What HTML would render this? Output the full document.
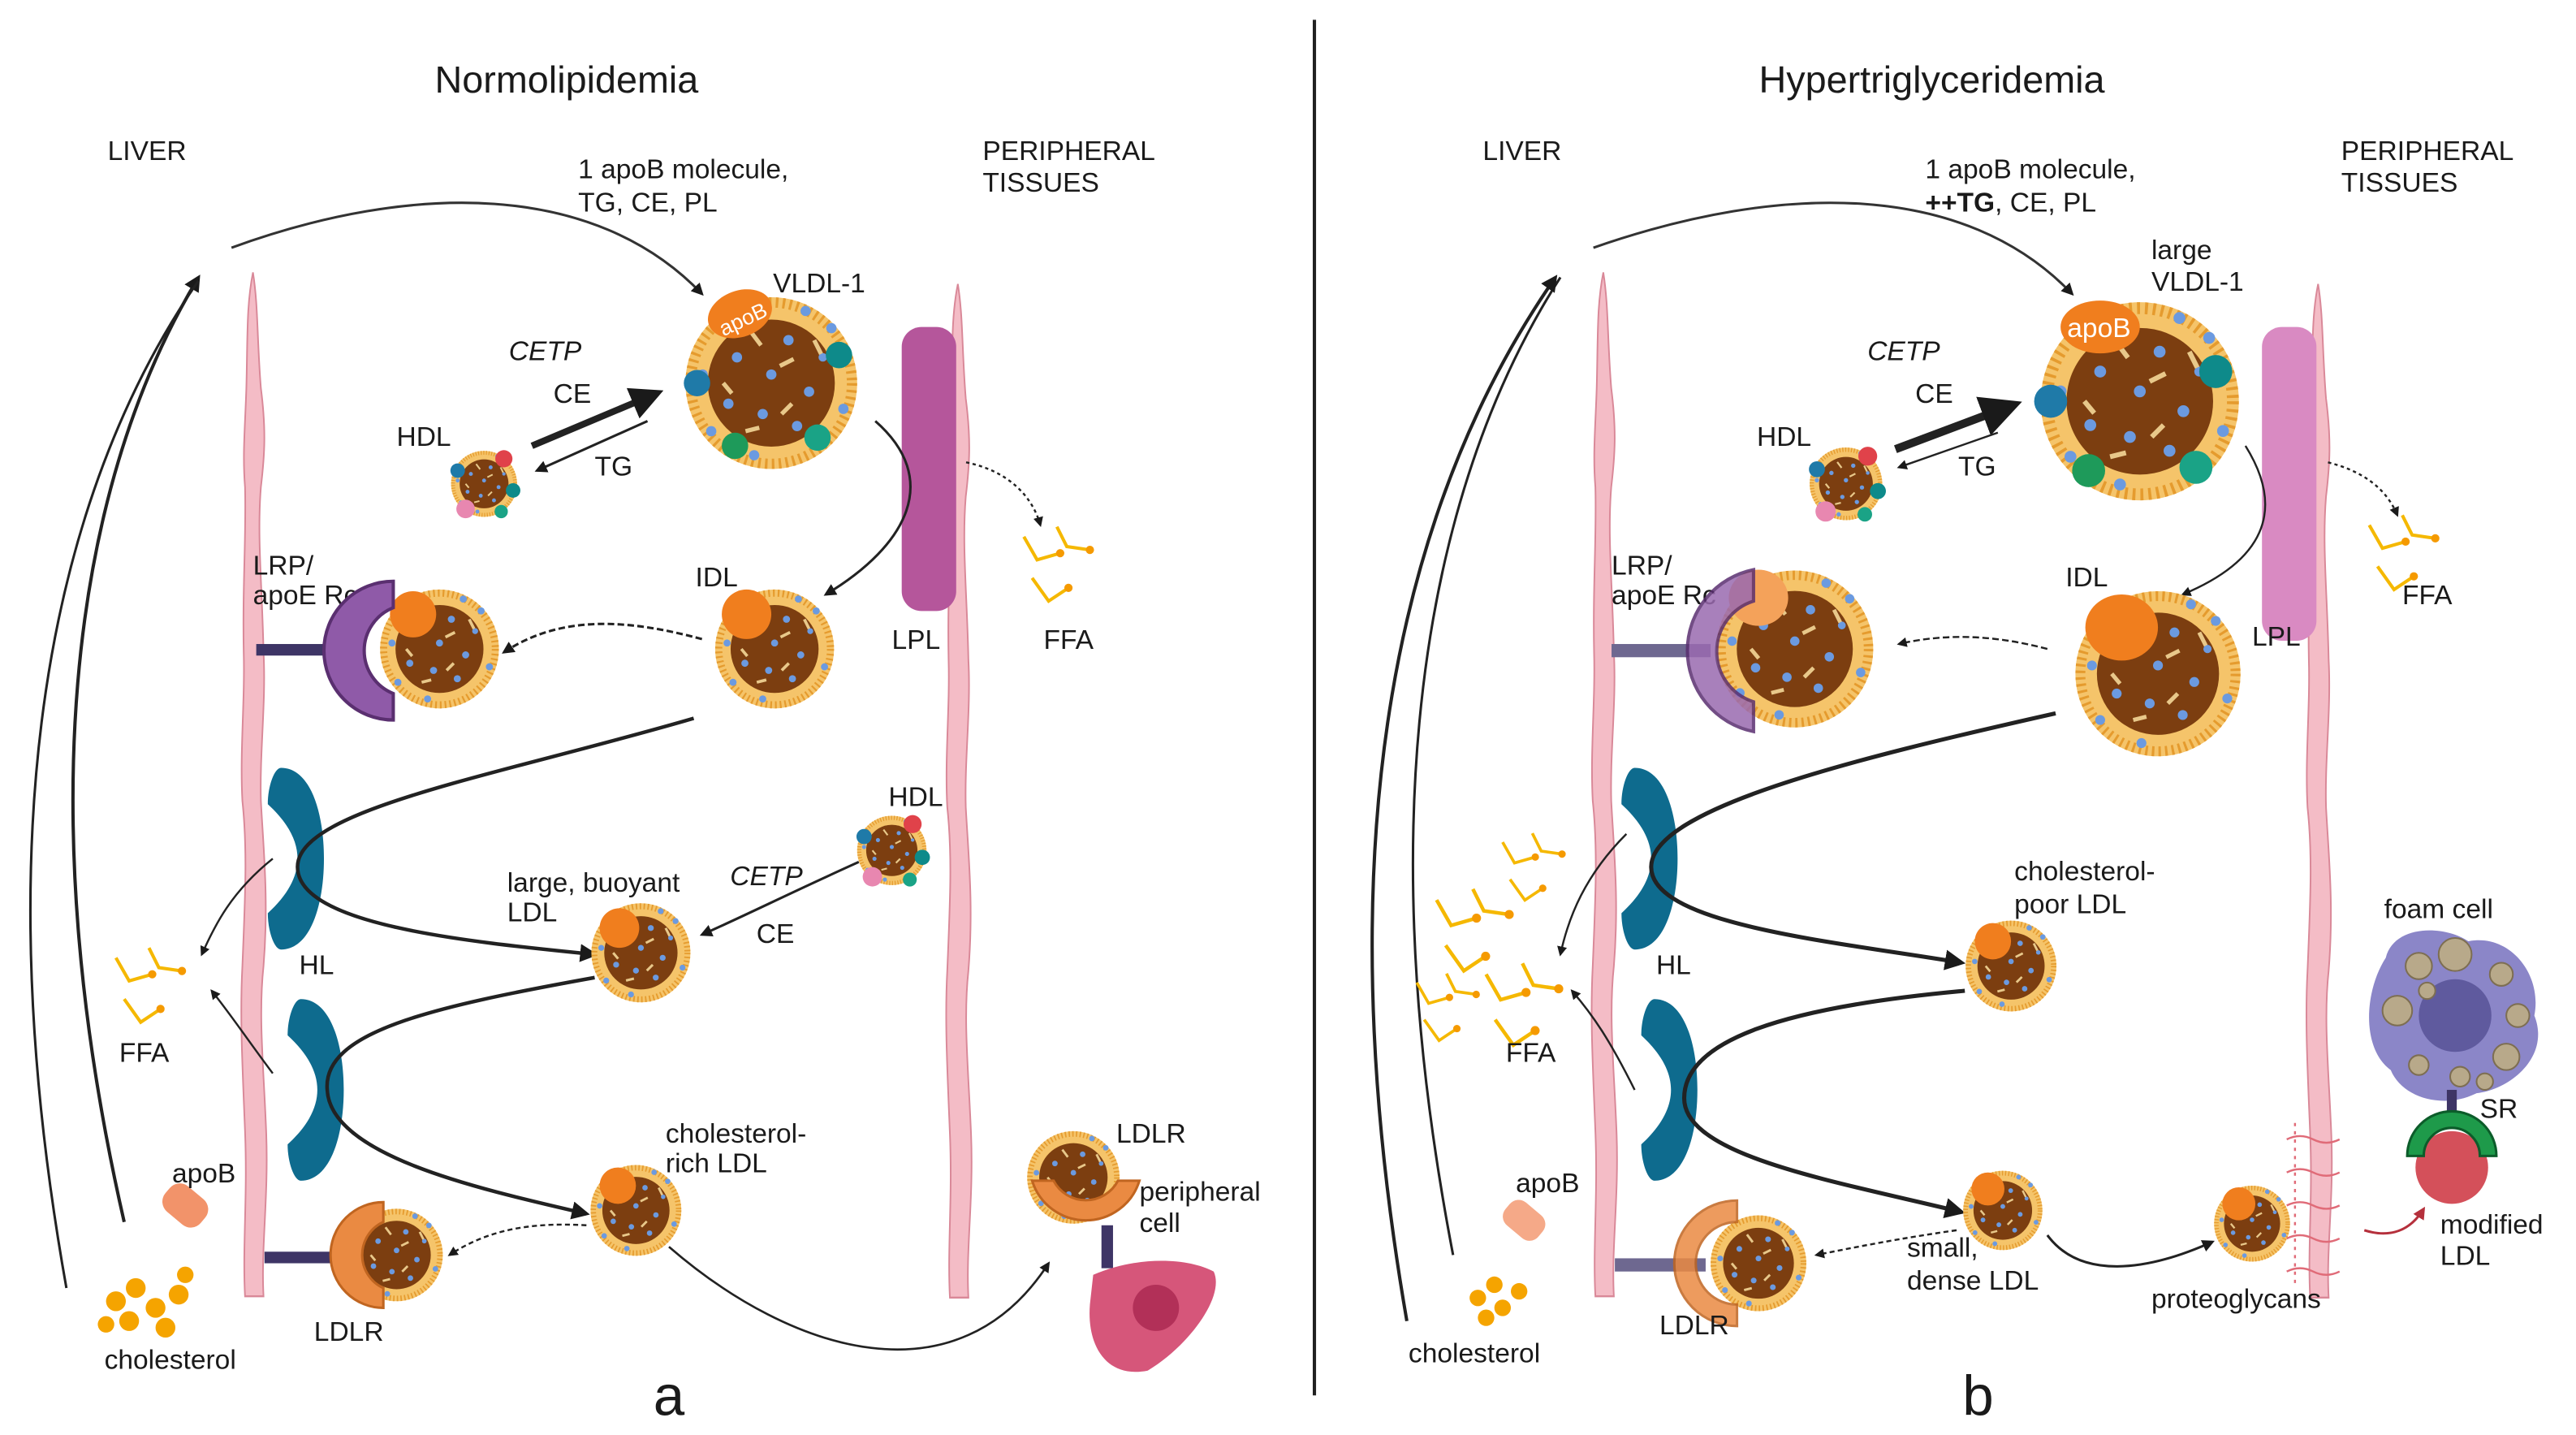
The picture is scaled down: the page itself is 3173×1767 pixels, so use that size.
<!DOCTYPE html>
<html><head><meta charset="utf-8"><style>
html,body{margin:0;padding:0;background:#fff}
svg{display:block}
text{font-family:"Liberation Sans",sans-serif;fill:#1a1a1a}
</style></head><body>
<svg width="3173" height="1767" viewBox="0 0 1560 869" xmlns="http://www.w3.org/2000/svg">
<defs>
<marker id="ah" viewBox="0 0 10 10" refX="8" refY="5" markerWidth="5" markerHeight="5" orient="auto"><path d="M0,0L10,5L0,10z" fill="#1a1a1a"/></marker>
<marker id="ahr" viewBox="0 0 10 10" refX="8" refY="5" markerWidth="5" markerHeight="5" orient="auto"><path d="M0,0L10,5L0,10z" fill="#b5303c"/></marker>
<g id="p">
<circle r="50" fill="#f5c46a"/>
<circle r="47" fill="none" stroke="#e59b2e" stroke-width="6" stroke-dasharray="1.5 2.5"/>
<circle r="37" fill="#7c3e10"/>
<g fill="#6b9ae0"><circle cx="-20" cy="-15" r="3"/><circle cx="10" cy="-25" r="3"/><circle cx="22" cy="5" r="3"/><circle cx="-5" cy="18" r="3"/><circle cx="-25" cy="12" r="3"/><circle cx="15" cy="25" r="3"/><circle cx="0" cy="-5" r="3"/><circle cx="30" cy="-15" r="2.5"/><circle cx="-40" cy="-5" r="3"/><circle cx="42" cy="15" r="3"/><circle cx="-10" cy="42" r="3"/><circle cx="20" cy="-42" r="3"/><circle cx="-35" cy="28" r="3"/><circle cx="35" cy="-32" r="3"/></g>
<g stroke="#e8c88a" stroke-width="2.5"><path d="M-12,-30l6,8M5,-10l8,-4M-28,0l5,6M12,12l-6,6M-15,28l8,-2M25,-25l4,8"/></g>
</g>
<g id="hdl">
<use href="#p"/>
<circle cx="30" cy="-38" r="13" fill="#e0424a"/>
<circle cx="-40" cy="-20" r="11" fill="#1f7aa8"/>
<circle cx="44" cy="10" r="11" fill="#0e8a8a"/>
<circle cx="-28" cy="38" r="14" fill="#e887b0"/>
<circle cx="26" cy="42" r="10" fill="#1aa386"/>
</g>
<g id="ffa" stroke="#f5b800" stroke-width="2" fill="none"><path d="M0,0l8,14l14,-4M20,-6l6,12l14,2M5,25l10,14l12,-8"/><g fill="#f59a00" stroke="none"><circle cx="22" cy="10" r="2.5"/><circle cx="40" cy="8" r="2.5"/><circle cx="27" cy="31" r="2.5"/></g></g>
<path id="endo" d="M0,0 C4,20 3,40 6,70 C10,95 9,110 6,130 C3,160 7,190 8,230 C10,260 5,290 6,320 C8,350 12,380 8,420 C4,450 8,480 10,520 C12,560 6,590 8,620 L-6,620 C-8,590 -4,560 -6,520 C-8,480 -10,450 -8,420 C-6,380 -4,350 -8,320 C-10,290 -6,260 -7,230 C-8,190 -5,160 -6,130 C-8,110 -6,95 -5,70 C-4,40 -5,20 0,0z" fill="#f4bcc6" stroke="#d98898" stroke-width="1.2"/>
<path id="hl" d="M0,0 C18,0 26,25 26,50 C26,75 18,100 0,100 C-4,100 -8,90 -8,80 C4,70 10,60 10,50 C10,40 4,30 -8,20 C-8,10 -4,0 0,0z" fill="#0e6b8e"/>
</defs>
<g font-size="16.5">
<line x1="796" y1="12" x2="796" y2="845" stroke="#222" stroke-width="2"/>

<!-- ===== PANEL A ===== -->
<text x="343" y="56" font-size="23" text-anchor="middle">Normolipidemia</text>
<text x="65" y="97">LIVER</text>
<text x="595" y="97">PERIPHERAL</text>
<text x="595" y="116">TISSUES</text>
<text x="350" y="108">1 apoB molecule,</text>
<text x="350" y="128">TG, CE, PL</text>

<use href="#endo" transform="translate(153,165) scale(0.8,1)"/>
<use href="#endo" transform="translate(580,172) scale(0.8,0.99)"/>

<path d="M140,150 C250,110 360,110 425,178" fill="none" stroke="#333" stroke-width="1.5" marker-end="url(#ah)"/>
<path d="M75,740 C20,500 40,300 120,168" fill="none" stroke="#222" stroke-width="2" marker-end="url(#ah)"/>
<path d="M40,780 C-10,500 30,300 120,170" fill="none" stroke="#222" stroke-width="1.5"/>

<rect x="546" y="198" width="33" height="172" rx="12" fill="#b5569b"/>
<use href="#p" transform="translate(467,232) scale(1.04)"/>
<ellipse cx="448" cy="190" rx="20" ry="14" fill="#f07e1e" transform="rotate(-20 448 190)"/>
<text x="435" y="200" font-size="13" transform="rotate(-25 445 195)" style="fill:#fff">apoB</text>
<circle cx="508" cy="215" r="8" fill="#0e8a8a"/><circle cx="422" cy="232" r="8" fill="#1f7aa8"/>
<circle cx="445" cy="270" r="8" fill="#1e9a5a"/><circle cx="495" cy="265" r="8" fill="#1aa386"/>
<text x="468" y="177">VLDL-1</text>
<text x="308" y="218" font-style="italic">CETP</text>
<text x="335" y="244">CE</text>
<text x="360" y="288">TG</text>
<text x="240" y="270">HDL</text>
<use href="#hdl" transform="translate(293,293) scale(0.4)"/>
<line x1="322" y1="270" x2="398" y2="238" stroke="#222" stroke-width="4" marker-end="url(#ah)"/>
<line x1="392" y1="255" x2="325" y2="285" stroke="#222" stroke-width="1.5" marker-end="url(#ah)"/>
<path d="M530,255 C570,290 550,330 500,360" fill="none" stroke="#222" stroke-width="1.5" marker-end="url(#ah)"/>
<path d="M585,280 C610,285 625,300 630,318" fill="none" stroke="#222" stroke-width="1.2" stroke-dasharray="2 2" marker-end="url(#ah)"/>
<use href="#ffa" transform="translate(620,325)"/>
<text x="632" y="393">FFA</text>
<text x="540" y="393">LPL</text>
<use href="#p" transform="translate(469,393) scale(0.72)"/>
<ellipse cx="452" cy="372" rx="15" ry="15" fill="#f07e1e"/>
<text x="421" y="355">IDL</text>
<text x="153" y="348">LRP/</text>
<text x="153" y="366">apoE Rc</text>
<rect x="155" y="390" width="55" height="7" fill="#3e3566"/>
<use href="#p" transform="translate(266,393) scale(0.72)"/>
<ellipse cx="250" cy="372" rx="14" ry="14" fill="#f07e1e"/>
<path d="M238,352 A42,42 0 0 0 238,436 L238,420 A28,28 0 0 1 238,368z" fill="#8f5aa8" stroke="#5a2f70" stroke-width="2"/>
<path d="M425,387 C380,375 340,372 305,395" fill="none" stroke="#222" stroke-width="1.5" stroke-dasharray="4 2" marker-end="url(#ah)"/>
<use href="#hl" transform="translate(170,465) scale(1,1.1)"/>
<use href="#hl" transform="translate(182,605) scale(1,1.1)"/>
<text x="181" y="590">HL</text>
<path d="M420,435 C300,470 180,490 180,525 C180,560 280,570 360,578" fill="none" stroke="#222" stroke-width="2.2" marker-end="url(#ah)"/>
<path d="M360,592 C260,610 195,625 198,660 C200,700 290,720 355,735" fill="none" stroke="#222" stroke-width="2.2" marker-end="url(#ah)"/>
<path d="M165,520 C140,540 130,560 122,578" fill="none" stroke="#222" stroke-width="1.2" marker-end="url(#ah)"/>
<path d="M165,650 C150,630 140,615 128,600" fill="none" stroke="#222" stroke-width="1.2" marker-end="url(#ah)"/>
<use href="#ffa" transform="translate(70,580)"/>
<text x="72" y="643">FFA</text>
<use href="#p" transform="translate(388,577) scale(0.6)"/>
<circle cx="375" cy="562" r="12" fill="#f07e1e"/>
<text x="307" y="540">large, buoyant</text>
<text x="307" y="558">LDL</text>
<text x="538" y="488">HDL</text>
<use href="#hdl" transform="translate(540,515) scale(0.42)"/>
<text x="442" y="536" font-style="italic">CETP</text>
<text x="458" y="571">CE</text>
<path d="M520,522 C480,540 450,555 425,566" fill="none" stroke="#222" stroke-width="1.5" marker-end="url(#ah)"/>
<use href="#p" transform="translate(385,733) scale(0.55)"/>
<circle cx="374" cy="718" r="11" fill="#f07e1e"/>
<text x="403" y="692">cholesterol-</text>
<text x="403" y="710">rich LDL</text>
<rect x="160" y="758" width="50" height="7" fill="#3e3566"/>
<use href="#p" transform="translate(240,760) scale(0.56)"/>
<path d="M232,728 A32,32 0 0 0 232,792 L232,780 A22,22 0 0 1 232,740z" fill="#ea8a42" stroke="#c06520" stroke-width="1.5"/>
<text x="190" y="812">LDLR</text>
<path d="M355,742 C320,740 295,745 272,760" fill="none" stroke="#222" stroke-width="1.2" stroke-dasharray="3 2" marker-end="url(#ah)"/>
<path d="M405,755 C480,820 580,850 635,765" fill="none" stroke="#222" stroke-width="1.3" marker-end="url(#ah)"/>
<use href="#p" transform="translate(650,713) scale(0.56)"/>
<path d="M625,715 A34,34 0 0 0 690,715 L677,715 A22,22 0 0 1 638,715z" fill="#ea8a42" stroke="#c06520" stroke-width="1.5"/>
<rect x="667" y="742" width="7" height="26" fill="#3e3566"/>
<path d="M662,772 C690,760 720,762 735,770 C742,785 720,815 695,830 C670,835 658,815 660,790z" fill="#d6567a"/>
<circle cx="700" cy="792" r="14" fill="#b23058"/>
<text x="676" y="692">LDLR</text>
<text x="690" y="727">peripheral</text>
<text x="690" y="746">cell</text>
<rect x="98" y="720" width="28" height="20" rx="8" fill="#f2936a" transform="rotate(40 112 730)"/>
<text x="104" y="716">apoB</text>
<g fill="#f5a400"><circle cx="70" cy="788" r="6"/><circle cx="82" cy="780" r="6"/><circle cx="94" cy="792" r="6"/><circle cx="108" cy="784" r="6"/><circle cx="78" cy="800" r="6"/><circle cx="100" cy="804" r="6"/><circle cx="112" cy="772" r="5"/><circle cx="64" cy="802" r="5"/></g>
<text x="63" y="829">cholesterol</text>
<text x="405" y="857" font-size="34" text-anchor="middle">a</text>

<!-- ===== PANEL B ===== -->
<text x="1170" y="56" font-size="23" text-anchor="middle">Hypertriglyceridemia</text>
<text x="898" y="97">LIVER</text>
<text x="1418" y="97">PERIPHERAL</text>
<text x="1418" y="116">TISSUES</text>
<text x="1166" y="108">1 apoB molecule,</text>
<text x="1166" y="128"><tspan font-weight="bold">++TG</tspan>, CE, PL</text>

<use href="#endo" transform="translate(971,165) scale(0.8,1)"/>
<use href="#endo" transform="translate(1404,172) scale(0.8,0.99)"/>
<path d="M965,150 C1080,110 1190,110 1255,178" fill="none" stroke="#333" stroke-width="1.5" marker-end="url(#ah)"/>
<path d="M880,760 C830,500 860,300 945,168" fill="none" stroke="#222" stroke-width="1.5"/>
<path d="M852,800 C800,500 850,300 942,168" fill="none" stroke="#222" stroke-width="2" marker-end="url(#ah)"/>

<rect x="1370" y="198" width="33" height="190" rx="12" fill="#d98ac2"/>
<use href="#p" transform="translate(1296,243) scale(1.2)"/>
<ellipse cx="1272" cy="198" rx="24" ry="16" fill="#f07e1e"/>
<text x="1252" y="204" style="fill:#fff">apoB</text>
<circle cx="1342" cy="225" r="10" fill="#0e8a8a"/><circle cx="1242" cy="243" r="10" fill="#1f7aa8"/>
<circle cx="1265" cy="285" r="10" fill="#1e9a5a"/><circle cx="1330" cy="283" r="10" fill="#1aa386"/>
<text x="1303" y="157">large</text>
<text x="1303" y="176">VLDL-1</text>
<text x="1131" y="218" font-style="italic">CETP</text>
<text x="1160" y="244">CE</text>
<text x="1186" y="288">TG</text>
<text x="1064" y="270">HDL</text>
<use href="#hdl" transform="translate(1118,293) scale(0.44)"/>
<line x1="1148" y1="272" x2="1220" y2="245" stroke="#222" stroke-width="5" marker-end="url(#ah)"/>
<line x1="1210" y1="262" x2="1150" y2="283" stroke="#222" stroke-width="1.2" marker-end="url(#ah)"/>
<path d="M1360,270 C1385,310 1370,340 1322,360" fill="none" stroke="#222" stroke-width="1.2" marker-end="url(#ah)"/>
<path d="M1410,280 C1430,285 1445,295 1452,312" fill="none" stroke="#222" stroke-width="1.2" stroke-dasharray="2 2" marker-end="url(#ah)"/>
<use href="#ffa" transform="translate(1435,318)"/>
<text x="1455" y="366">FFA</text>
<text x="1364" y="391">LPL</text>
<use href="#p" transform="translate(1307,408) scale(1)"/>
<ellipse cx="1285" cy="380" rx="22" ry="20" fill="#f07e1e"/>
<text x="1251" y="355">IDL</text>
<text x="976" y="348">LRP/</text>
<text x="976" y="366">apoE Rc</text>
<rect x="976" y="390" width="60" height="8" fill="#6e6890"/>
<use href="#p" transform="translate(1087,393) scale(0.95)"/>
<ellipse cx="1065" cy="362" rx="18" ry="17" fill="#f4a25a"/>
<path d="M1062,345 A50,50 0 0 0 1062,443 L1062,425 A32,32 0 0 1 1062,364z" fill="#9a6ab0" opacity="0.85" stroke="#5a2f70" stroke-width="2"/>
<path d="M1240,393 C1210,385 1180,383 1150,390" fill="none" stroke="#222" stroke-width="1.2" stroke-dasharray="4 2" marker-end="url(#ah)"/>
<use href="#hl" transform="translate(990,465) scale(1,1.1)"/>
<use href="#hl" transform="translate(1002,605) scale(1,1.1)"/>
<text x="1003" y="590">HL</text>
<path d="M1245,432 C1120,460 1000,490 1000,525 C1000,560 1110,570 1188,583" fill="none" stroke="#222" stroke-width="2.5" marker-end="url(#ah)"/>
<path d="M1190,600 C1080,610 1020,630 1020,665 C1020,700 1110,715 1188,734" fill="none" stroke="#222" stroke-width="2.5" marker-end="url(#ah)"/>
<path d="M985,505 C960,530 950,555 945,578" fill="none" stroke="#222" stroke-width="1.2" marker-end="url(#ah)"/>
<path d="M990,660 C975,630 965,615 952,600" fill="none" stroke="#222" stroke-width="1.2" marker-end="url(#ah)"/>
<use href="#ffa" transform="translate(870,545) scale(1.1)"/>
<use href="#ffa" transform="translate(900,590) scale(1.1)"/>
<use href="#ffa" transform="translate(858,595) scale(0.9)"/>
<use href="#ffa" transform="translate(910,510) scale(0.9)"/>
<text x="912" y="643">FFA</text>
<use href="#p" transform="translate(1218,585) scale(0.55)"/>
<circle cx="1207" cy="570" r="11" fill="#f07e1e"/>
<text x="1220" y="533">cholesterol-</text>
<text x="1220" y="553">poor LDL</text>
<use href="#p" transform="translate(1213,733) scale(0.48)"/>
<circle cx="1204" cy="720" r="10" fill="#f07e1e"/>
<text x="1155" y="761">small,</text>
<text x="1155" y="781">dense LDL</text>
<rect x="978" y="762" width="55" height="8" fill="#6e6890"/>
<use href="#p" transform="translate(1065,765) scale(0.58)"/>
<path d="M1052,727 A38,38 0 0 0 1052,803 L1052,790 A25,25 0 0 1 1052,740z" fill="#ea8a42" opacity="0.85" stroke="#c06520" stroke-width="1.5"/>
<text x="1005" y="808">LDLR</text>
<path d="M1185,745 C1150,750 1125,755 1100,760" fill="none" stroke="#222" stroke-width="1.2" stroke-dasharray="3 2" marker-end="url(#ah)"/>
<path d="M1240,748 C1260,775 1300,770 1340,752" fill="none" stroke="#222" stroke-width="1.5" marker-end="url(#ah)"/>
<use href="#p" transform="translate(1364,741) scale(0.46)"/>
<circle cx="1356" cy="729" r="10" fill="#f07e1e"/>
<g stroke="#e06b78" stroke-width="1.2" fill="none"><path d="M1385,690 q8,-4 16,0 t16,0"/><path d="M1385,710 q8,-4 16,0 t16,0"/><path d="M1385,730 q8,-4 16,0 t16,0"/><path d="M1385,750 q8,-4 16,0 t16,0"/><path d="M1385,770 q8,-4 16,0 t16,0"/><path d="M1390,680 v100" stroke-dasharray="2 3"/></g>
<text x="1303" y="792">proteoglycans</text>
<path d="M1445,580 C1450,560 1480,560 1495,570 C1520,565 1540,590 1535,615 C1545,640 1520,660 1500,662 C1480,672 1455,665 1448,648 C1430,635 1432,600 1445,580z" fill="#8b86c8"/>
<circle cx="1487" cy="615" r="22" fill="#5f5a9e"/>
<g fill="#b8a98a" stroke="#7d6e52" stroke-width="1"><circle cx="1465" cy="585" r="8"/><circle cx="1487" cy="578" r="10"/><circle cx="1515" cy="590" r="7"/><circle cx="1525" cy="615" r="7"/><circle cx="1452" cy="612" r="9"/><circle cx="1518" cy="640" r="8"/><circle cx="1465" cy="645" r="6"/><circle cx="1490" cy="652" r="6"/><circle cx="1505" cy="655" r="5"/><circle cx="1470" cy="600" r="5"/></g>
<text x="1444" y="556">foam cell</text>
<rect x="1482" y="660" width="6" height="20" fill="#3e3566"/>
<text x="1502" y="677">SR</text>
<circle cx="1485" cy="707" r="22" fill="#d4505a"/>
<path d="M1458,700 A27,27 0 0 1 1512,700 L1502,700 A17,17 0 0 0 1468,700z" fill="#1e9a4a" stroke="#0c5c2a" stroke-width="1.5"/>
<path d="M1432,745 C1448,750 1460,745 1468,732" fill="none" stroke="#b5303c" stroke-width="1.5" marker-end="url(#ahr)"/>
<text x="1478" y="747">modified</text>
<text x="1478" y="766">LDL</text>
<rect x="910" y="730" width="26" height="18" rx="7" fill="#f2936a" opacity="0.8" transform="rotate(40 923 739)"/>
<text x="918" y="722">apoB</text>
<g fill="#f5a400"><circle cx="895" cy="786" r="5"/><circle cx="905" cy="778" r="5"/><circle cx="910" cy="792" r="5"/><circle cx="920" cy="782" r="5"/><circle cx="900" cy="798" r="5"/></g>
<text x="853" y="825">cholesterol</text>
<text x="1198" y="857" font-size="34" text-anchor="middle">b</text>
</g>
</svg>
</body></html>
